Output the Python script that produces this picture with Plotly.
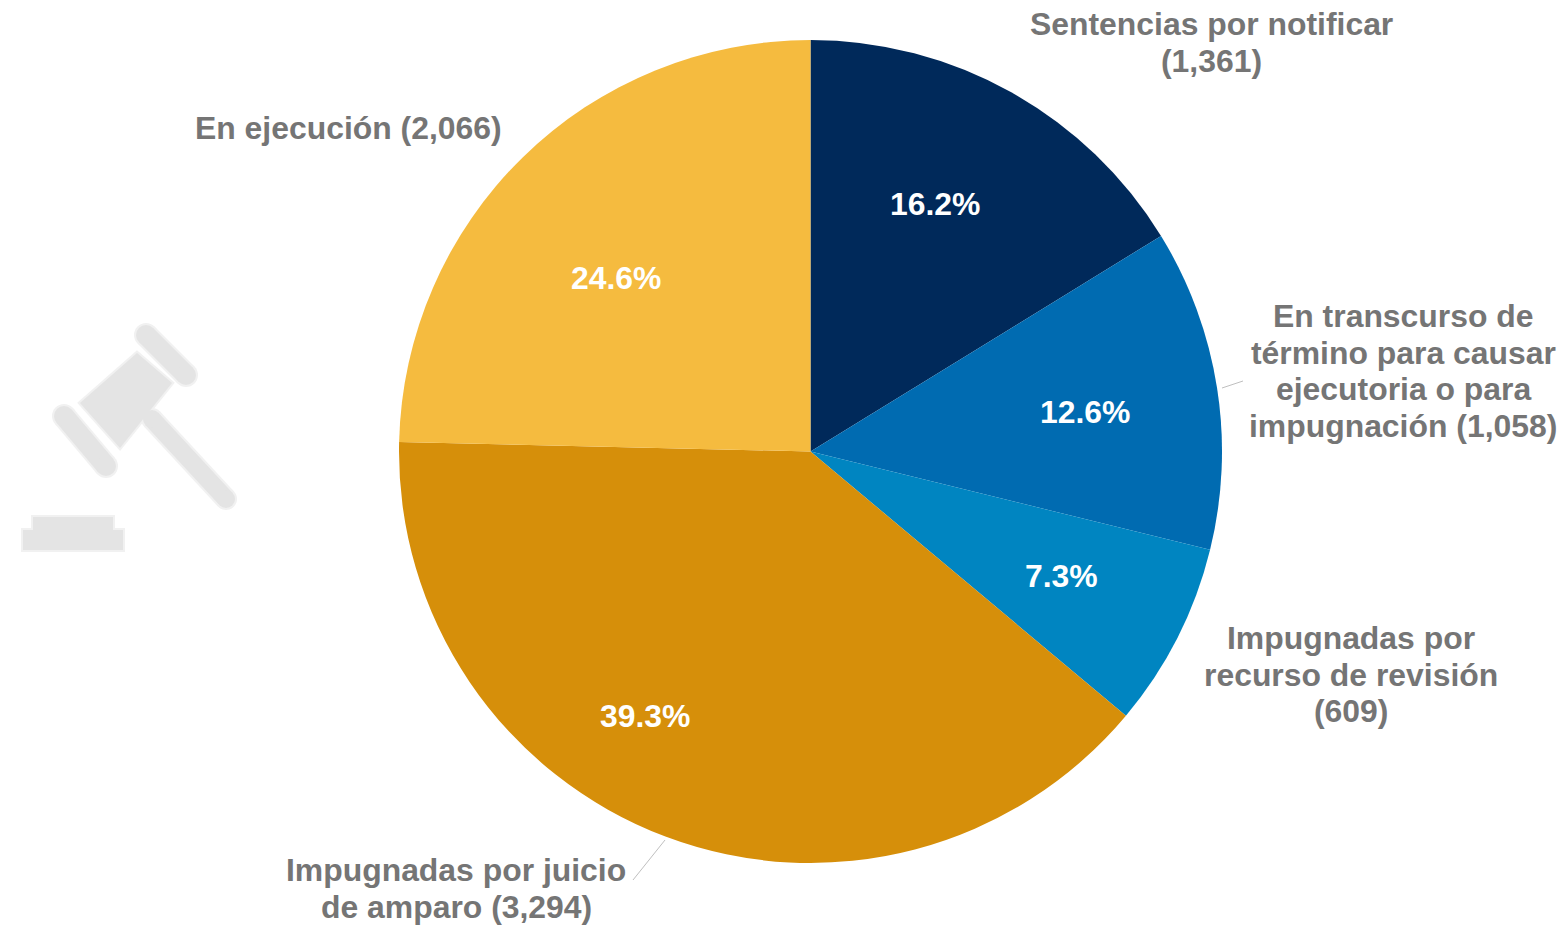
import plotly.graph_objects as go

categories = ["Sentencias por notificar", "En transcurso de término para causar ejecutoria o para impugnación",
              "Impugnadas por recurso de revisión", "Impugnadas por juicio de amparo", "En ejecución"]
values = [1361, 1058, 609, 3294, 2066]
colors = ["#00295A", "#006BB1", "#0085C1", "#D68F0A", "#F5BB3F"]
percent_pos = [(935, 204), (1085, 412), (1061, 576), (645, 716), (616, 278)]
label_lines = [
    (["Sentencias por notificar", "(1,361)"], 1211, 24),
    (["En transcurso de", "término para causar", "ejecutoria o para", "impugnación (1,058)"], 1403, 316),
    (["Impugnadas por", "recurso de revisión", "(609)"], 1351, 638),
    (["Impugnadas por juicio", "de amparo (3,294)"], 456, 870),
    (["En ejecución (2,066)"], 348, 128),
]
W, H = 1565, 925
CX, CY, R = 810.5, 451.5, 411.5
LINE = 36.7
FONT = 31.9
px = lambda x: x / W
py = lambda y: 1 - y / H

fig = go.Figure(go.Pie(
    labels=categories, values=values, sort=False, direction="clockwise", rotation=0,
    marker=dict(colors=colors, line=dict(width=0)),
    textinfo="none",
    domain=dict(x=[px(CX - R), px(CX + R)], y=[py(CY + R), py(CY - R)]),
    showlegend=False, hoverinfo="label+value+percent",
))
total = sum(values)
for v, (x, y) in zip(values, percent_pos):
    fig.add_annotation(text=f"{v / total:.1%}", x=px(x), y=py(y), xref="paper", yref="paper",
                       showarrow=False, xanchor="center", yanchor="middle",
                       font=dict(family="Liberation Sans", size=FONT, color="white", weight="bold"))
for lines, x, y in label_lines:
    for i, line in enumerate(lines):
        fig.add_annotation(text=line, x=px(x), y=py(y + i * LINE), xref="paper", yref="paper",
                           showarrow=False, xanchor="center", yanchor="middle",
                           font=dict(family="Liberation Sans", size=FONT, color="#757575", weight="bold"))

def seg(x0, y0, x1, y1, color, width):
    return dict(type="line", x0=px(x0), y0=py(y0), x1=px(x1), y1=py(y1), layer="below",
                line=dict(color=color, width=width))

def poly(points, color, halo=0):
    path = "M " + " L ".join(f"{px(x)},{py(y)}" for x, y in points) + " Z"
    return dict(type="path", path=path, fillcolor=color, layer="below",
                line=dict(width=halo, color=color))

def dot(x, y, r, color):
    return dict(type="circle", x0=px(x - r), x1=px(x + r), y0=py(y + r), y1=py(y - r),
                fillcolor=color, line=dict(width=0), layer="below")

WM = "#E4E4E4"
HALO = "#F1F1F1"
bars = [(152, 419, 226, 499, 18), (146, 335, 186, 375, 20), (64, 416, 106, 466, 20)]
shapes = [
    seg(1222, 388, 1243, 381, "#BFBFBF", 1),
    seg(633, 880, 665, 840, "#BFBFBF", 1),
    # watermark gavel
    poly([(80, 403), (137, 353), (172, 383), (120, 448)], HALO, 4),
    poly([(33, 517), (113, 517), (113, 530), (33, 530)], HALO, 4),
    poly([(23, 530), (123, 530), (123, 550), (23, 550)], HALO, 4),
]
for x0, y0, x1, y1, w in bars:
    shapes.append(seg(x0, y0, x1, y1, HALO, w + 4))
    shapes.append(dot(x0, y0, w / 2 + 2, HALO))
    shapes.append(dot(x1, y1, w / 2 + 2, HALO))
shapes += [
    poly([(80, 403), (137, 353), (172, 383), (120, 448)], WM),
    poly([(33, 517), (113, 517), (113, 530), (33, 530)], WM),
    poly([(23, 530), (123, 530), (123, 550), (23, 550)], WM),
]
for x0, y0, x1, y1, w in bars:
    shapes.append(seg(x0, y0, x1, y1, WM, w))
    shapes.append(dot(x0, y0, w / 2, WM))
    shapes.append(dot(x1, y1, w / 2, WM))
fig.update_layout(width=W, height=H, autosize=False, margin=dict(l=0, r=0, t=0, b=0),
                  paper_bgcolor="rgba(0,0,0,0)", plot_bgcolor="rgba(0,0,0,0)", shapes=shapes)
fig.write_html("out.html", config=dict(displayModeBar=False),
               post_script="document.body.style.margin='0';document.body.style.overflow='hidden';")
